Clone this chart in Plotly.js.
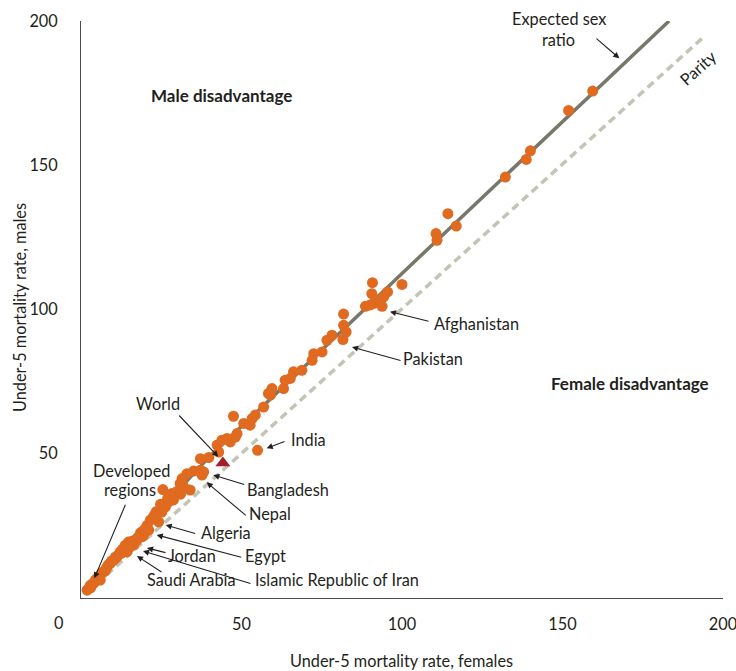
<!DOCTYPE html>
<html>
<head>
<meta charset="utf-8">
<script src="https://cdn.plot.ly/plotly-3.0.1.min.js"></script>
<style>html,body{margin:0;padding:0;background:#fff;}#chart{width:736px;height:671px;}</style>
</head>
<body>
<div id="chart"></div>
<script>
// ---- data ----
const females = [159.4,151.9,140.0,138.7,132.2,114.3,116.9,110.6,110.9,
  100.0,90.8,95.5,90.6,94.3,92.2,91.2,88.6,93.8,90.1,
  81.8,81.8,82.6,81.6,78.2,76.6,75.1,72.5,72.0,68.8,66.2,65.2,63.6,63.1,59.5,58.4,59.0,56.9,54.3,53.3,47.5,50.7,52.7,48.6,48.1,46.5,45.5,43.9,42.4,42.9,39.8,37.2,35.1,33.0,37.7,37.2,38.2,31.5,32.0,30.9,34.0,25.5,28.3,27.3,26.3,25.2,21.6,20.6,24.2,21.1,19.5,17.4,14.8,13.8,16.4,12.2,14.3,10.7,10.2,9.1,7.6,6.0,6.0,4.5,2.9,1.9,
  3.5,5.0,8.0,11.5,13.0,15.5,18.0,19.0,22.5,23.0,27.0,29.0,30.0,3.0,4.0,55.0,
  8.5,9.5,11.0,12.5,7.0,5.5,16.0,18.5,15.0,19.0,17.8,20.0,23.5,24.8,28.8,31.0,2.5,4.8,6.5];
const males = [175.7,169.0,155.0,152.0,145.9,133.2,128.9,126.3,124.0,
  108.7,109.3,106.1,105.5,104.4,103.2,102.1,101.1,101.1,101.6,
  98.4,94.5,92.2,89.6,91.1,89.3,85.3,84.7,82.4,78.9,78.4,76.1,75.5,72.6,72.6,70.9,70.3,66.2,63.4,62.2,63.0,60.5,59.9,57.0,55.8,54.1,55.3,54.7,53.0,50.6,48.7,48.3,44.0,43.1,42.6,44.3,43.7,41.4,38.5,39.7,37.4,37.6,36.2,33.3,31.6,29.8,27.0,25.2,26.4,23.5,21.8,20.0,19.4,18.3,18.3,16.0,16.0,14.2,13.1,12.0,9.6,7.9,6.2,6.2,4.4,2.7,
  4.8,6.8,10.5,14.8,17.0,18.8,21.0,23.0,28.0,29.0,34.5,35.5,37.0,3.5,5.2,51.2,
  11.5,12.8,14.0,15.5,9.0,7.3,19.8,22.5,17.5,21.2,20.8,24.0,30.0,32.5,34.0,36.0,3.5,6.0,8.8];
const worldF = [44.2];
const worldM = [46.8];
const expectedF = [1.5, 5, 10, 15, 20, 30, 40, 60, 100, 183.2];
const expectedM = [2.0, 6.8, 13.5, 19.5, 25.5, 37, 49, 70, 112.5, 200];
const parityF = [2, 194.5];
const parityM = [2, 195];
const tickVals = [50, 100, 150, 200];
const originLabel = '0';

const FONT = 'Lato, "Open Sans", sans-serif';
const TXT = '#231f20';
const FS = 16.3;

const traces = [
  {x: parityF, y: parityM, mode: 'lines', line: {color: '#c2c5b5', width: 3.5, dash: '8px,5px'}, hoverinfo: 'skip'},
  {x: expectedF, y: expectedM, mode: 'lines', line: {color: '#77786a', width: 3.5}, hoverinfo: 'skip'},
  {x: females, y: males, mode: 'markers', marker: {color: '#e06a1f', size: 11}},
  {x: worldF, y: worldM, mode: 'markers', marker: {color: '#a3202a', size: 13, symbol: 'triangle-up'}}
];

// pixel -> paper helpers for label placement (plot area 81..723 x 21..598)
const L = 81, T = 21, W = 642, H = 577;
const qx = p => (p - L) / W;
const qy = p => (T + H - p) / H;

function lbl(text, x, y, opts) {
  return Object.assign({text: text, x: qx(x), y: qy(y), xref: 'paper', yref: 'paper', showarrow: false,
    xanchor: 'center', yanchor: 'middle', font: {family: FONT, size: FS, color: TXT}}, opts || {});
}
function arr(hx, hy, tx, ty) {
  return {text: '', x: qx(hx), y: qy(hy), ax: tx - hx, ay: ty - hy, xref: 'paper', yref: 'paper',
    showarrow: true, arrowhead: 2, arrowsize: 1.1, arrowwidth: 1.1, arrowcolor: '#231f20', standoff: 0, startstandoff: 0};
}

const annotations = [
  lbl('Expected sex', 558.5, 18.3),
  lbl('ratio', 558.3, 39.3),
  lbl('Parity', 698, 68, {textangle: -42}),
  lbl('<b>Male disadvantage</b>', 221.5, 95, {font: {family: FONT, size: 17, color: TXT}}),
  lbl('<b>Female disadvantage</b>', 629.7, 383.3, {font: {family: FONT, size: 17, color: TXT}}),
  lbl('Afghanistan', 476.2, 323.3),
  lbl('Pakistan', 432.7, 358.3),
  lbl('India', 308.8, 439.3),
  lbl('World', 157.5, 404),
  lbl('Bangladesh', 288, 489.3),
  lbl('Nepal', 269.7, 513.3),
  lbl('Algeria', 225.5, 532.7),
  lbl('Egypt', 265.8, 555.7),
  lbl('Jordan', 192.2, 555),
  lbl('Saudi Arabia', 191.7, 579.3),
  lbl('Islamic Republic of Iran', 336.7, 579.3),
  lbl('Developed', 131.3, 470.7),
  lbl('regions', 129.7, 489.3),
  lbl(originLabel, 58.3, 622.7),
  arr(619.3, 58.3, 595, 37.3),
  arr(390, 311.7, 430, 321.7),
  arr(352, 347, 402, 361),
  arr(266.7, 448.3, 286, 441),
  arr(218.3, 456.7, 177.7, 414),
  arr(213.3, 475, 245.7, 485),
  arr(206.7, 482.3, 247.3, 516.7),
  arr(165.7, 525, 196.7, 534),
  arr(156.7, 535, 242.7, 557.7),
  arr(147, 548, 167, 553),
  arr(143, 551, 252, 584),
  arr(137, 556, 163, 573),
  arr(94.3, 578.3, 126, 503.3),
  lbl('Under-5 mortality rate, females', 401, 660),
  lbl('Under-5 mortality rate, males', 19, 308, {textangle: -90})
];

const layout = {
  width: 736, height: 671,
  margin: {l: L, r: 736 - L - W, t: T, b: 671 - T - H, pad: 0},
  paper_bgcolor: '#fff', plot_bgcolor: '#fff',
  showlegend: false,
  font: {family: FONT, size: FS, color: TXT},
  xaxis: {range: [0, 200], tickvals: tickVals, ticks: 'outside', ticklen: 11, tickcolor: 'rgba(0,0,0,0)',
    showgrid: false, zeroline: false, showline: true, linecolor: '#4d4d4d', linewidth: 1,
    ticklabeloverflow: 'allow', tickfont: {family: FONT, size: FS, color: TXT}, fixedrange: true},
  yaxis: {range: [0, 200], tickvals: tickVals, ticks: 'outside', ticklen: 19, tickcolor: 'rgba(0,0,0,0)',
    showgrid: false, zeroline: false, showline: true, linecolor: '#4d4d4d', linewidth: 1,
    ticklabeloverflow: 'allow', tickfont: {family: FONT, size: FS, color: TXT}, fixedrange: true},
  annotations: annotations
};

Plotly.newPlot('chart', traces, layout, {displayModeBar: false, staticPlot: true});
</script>
</body>
</html>
